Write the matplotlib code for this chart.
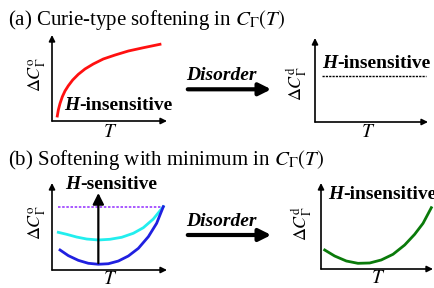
import matplotlib
matplotlib.use("Agg")
import matplotlib.pyplot as plt

plt.rcParams["font.family"] = ["Liberation Serif", "DejaVu Serif"]
plt.rcParams["mathtext.fontset"] = "stix"

W, H = 435, 288

# curve values (T and Delta C in axis units 0..1)
red_T = [0.046, 0.055, 0.070, 0.090, 0.113, 0.142, 0.180, 0.229, 0.287, 0.359,
         0.446, 0.548, 0.664, 0.794, 0.939]
red_C = [0.058, 0.128, 0.205, 0.283, 0.349, 0.410, 0.477, 0.543, 0.605, 0.663,
         0.721, 0.767, 0.814, 0.852, 0.892]

flat_T = [0.06, 0.98]
flat_C = [0.548, 0.548]

cyan_T = [0.055, 0.128, 0.214, 0.302, 0.403, 0.504, 0.606, 0.707, 0.794, 0.881, 0.968]
cyan_C = [0.433, 0.410, 0.379, 0.356, 0.345, 0.353, 0.376, 0.422, 0.486, 0.586, 0.728]

blue_T = [0.070, 0.142, 0.229, 0.316, 0.403, 0.490, 0.577, 0.664, 0.751, 0.838,
          0.910, 0.968]
blue_C = [0.230, 0.165, 0.111, 0.077, 0.066, 0.072, 0.103, 0.161, 0.249, 0.383,
          0.537, 0.728]

purple_T = [0.055, 0.968]
purple_C = [0.728, 0.728]

field_T = [0.403, 0.403]
field_C = [0.08, 0.885]

green_T = [0.033, 0.122, 0.226, 0.330, 0.435, 0.538, 0.643, 0.747, 0.836, 0.911, 0.985]
green_C = [0.221, 0.151, 0.093, 0.066, 0.070, 0.105, 0.171, 0.279, 0.403, 0.531, 0.713]

titles = [r"(a) Curie-type softening in $C_{\Gamma}(T)$",
          r"(b) Softening with minimum in $C_{\Gamma}(T)$"]
ylab_o = r"$\Delta C_{\Gamma}^{\mathrm{o}}$"
ylab_d = r"$\Delta C_{\Gamma}^{\mathrm{d}}$"

fig = plt.figure(figsize=(W / 100, H / 100), dpi=100)


def px_axes(l, t, r, b):
    ax = fig.add_axes([l / W, 1 - b / H, (r - l) / W, (b - t) / H])
    ax.set_xlim(0, 1)
    ax.set_ylim(0, 1)
    ax.axis("off")
    ap = dict(arrowstyle="-|>", lw=1.2, color="k", mutation_scale=9,
              shrinkA=0, shrinkB=0)
    ax.annotate("", xy=(1, 0), xytext=(0, 0), xycoords="axes fraction", arrowprops=ap)
    ax.annotate("", xy=(0, 1), xytext=(0, 0), xycoords="axes fraction", arrowprops=ap)
    return ax


def tag(ax, x, y, rest):
    t1 = ax.text(x, y, "H", fontsize=14, fontweight="bold", fontstyle="italic",
                 va="baseline", ha="left", transform=ax.transAxes)
    ax.annotate(rest, xy=(1, 0), xycoords=t1, fontsize=14, fontweight="bold",
                va="bottom", ha="left", annotation_clip=False)


def labels(ax, ylab, yx, yy, tx, ty):
    ax.text(yx, yy, ylab, rotation=90, fontsize=13, ha="center", va="center",
            transform=ax.transAxes)
    ax.text(tx, ty, r"$T$", fontsize=14, ha="center", va="center",
            transform=ax.transAxes)


# (a) left
a1 = px_axes(52, 35, 167, 121)
a1.plot(red_T, red_C, color="#ff1010", lw=2.0, clip_on=False)
labels(a1, ylab_o, -0.13, 0.535, 0.504, -0.13)
tag(a1, 0.104, 0.128, "-insensitive")

# (a) right
a2 = px_axes(315, 38, 428, 122)
a2.plot(flat_T, flat_C, color="k", lw=1.0, ls=(0, (1.6, 0.8)), clip_on=False)
labels(a2, ylab_d, -0.16, 0.46, 0.47, -0.12)
tag(a2, 0.062, 0.64, "-insensitive")

# (b) left
b1 = px_axes(52, 183, 167, 270)
b1.plot(purple_T, purple_C, color="#9a3cff", lw=1.2, ls=(0, (1.5, 1)), clip_on=False)
b1.plot(cyan_T, cyan_C, color="#22eeee", lw=2.0, clip_on=False)
b1.plot(blue_T, blue_C, color="#2020e0", lw=2.0, clip_on=False)
b1.annotate("", xy=(field_T[1], field_C[1]), xytext=(field_T[0], field_C[0]),
            arrowprops=dict(arrowstyle="-|>,head_width=0.3,head_length=0.6", lw=1.6,
                            color="k", mutation_scale=11, shrinkA=0, shrinkB=0))
labels(b1, ylab_o, -0.13, 0.55, 0.504, -0.105)
tag(b1, 0.113, 0.93, "-sensitive")

# (b) right
b2 = px_axes(321, 183, 433, 269)
b2.plot(green_T, green_C, color="#0a7a0a", lw=2.0, clip_on=False)
labels(b2, ylab_d, -0.17, 0.53, 0.51, -0.105)
tag(b2, 0.065, 0.81, "-insensitive")

# titles and disorder arrows
fig.text(8 / W, 1 - 25 / H, titles[0], fontsize=15, va="baseline")
fig.text(8 / W, 1 - 165 / H, titles[1], fontsize=15, va="baseline")
for y in (89.3, 235):
    fig.text(186 / W, 1 - (y - 9) / H, "Disorder", fontsize=14, fontweight="bold",
             fontstyle="italic", va="baseline")
    fig.add_artist(matplotlib.patches.FancyArrowPatch(
        (185 / W, 1 - y / H), (274 / W, 1 - y / H), transform=fig.transFigure,
        arrowstyle="-|>", lw=3, color="k", mutation_scale=18))

fig.savefig("out.png", dpi=100)
